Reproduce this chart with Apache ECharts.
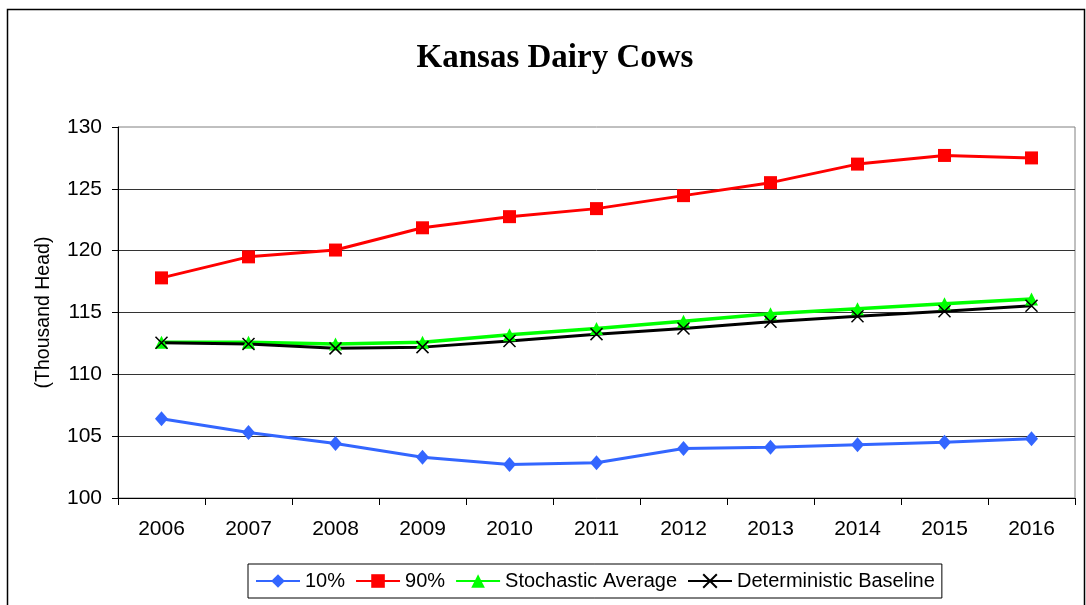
<!DOCTYPE html>
<html>
<head>
<meta charset="utf-8">
<script src="https://cdn.jsdelivr.net/npm/echarts@6/dist/echarts.min.js"></script>
<style>
html,body{margin:0;padding:0;background:#fff;}
#chart{width:1086px;height:605px;}
</style>
</head>
<body>
<div id="chart"></div>
<script>
const years = ['2006','2007','2008','2009','2010','2011','2012','2013','2014','2015','2016'];
const p10 = [106.4, 105.3, 104.4, 103.3, 102.7, 102.85, 104.0, 104.1, 104.3, 104.5, 104.8];
const p90 = [117.8, 119.5, 120.05, 121.85, 122.75, 123.4, 124.45, 125.5, 127.0, 127.7, 127.5];
const stochAvg = [112.6, 112.6, 112.45, 112.6, 113.2, 113.7, 114.3, 114.9, 115.3, 115.7, 116.1];
const detBase = [112.55, 112.45, 112.1, 112.2, 112.7, 113.25, 113.7, 114.25, 114.7, 115.1, 115.55];
const seriesNames = ['10%', '90%', 'Stochastic Average', 'Deterministic Baseline'];
const yTicks = {min: 100, max: 130, interval: 5};

const chart = echarts.init(document.getElementById('chart'), null, {renderer: 'canvas'});
const crossPath = 'path://M0,0L10,10M10,0L0,10';
const font = 'Liberation Sans, Arial, sans-serif';

chart.setOption({
  animation: false,
  backgroundColor: '#fff',
  graphic: [{
    type: 'rect', left: 5, top: 7, z: -1,
    shape: {width: 1077, height: 620},
    style: {fill: 'none', stroke: '#000', lineWidth: 1.5}
  }],
  title: {
    text: 'Kansas Dairy Cows',
    left: 550, textAlign: 'center', top: 37,
    textStyle: {fontFamily: 'Liberation Serif, Times New Roman, serif', fontWeight: 'bold', fontSize: 33, color: '#000'}
  },
  legend: {
    left: 248, top: 564,
    width: 720,
    padding: [7, 7, 7, 7],
    itemGap: 10,
    itemWidth: 44, itemHeight: 17,
    borderColor: '#000', borderWidth: 1,
    textStyle: {fontFamily: font, fontSize: 20, color: '#000'},
    data: seriesNames
  },
  grid: {
    left: 118, right: 11, top: 127, bottom: 107,
    show: true, borderColor: '#808080', borderWidth: 1,
    containLabel: false
  },
  xAxis: {
    type: 'category',
    data: years,
    boundaryGap: true,
    axisLine: {lineStyle: {color: '#000', width: 1}},
    axisTick: {show: true, length: 7, inside: false, lineStyle: {color: '#000'}},
    axisLabel: {fontFamily: font, fontSize: 21, color: '#000', margin: 21, interval: 0},
    splitLine: {show: false}
  },
  yAxis: {
    type: 'value',
    min: yTicks.min, max: yTicks.max, interval: yTicks.interval,
    name: '(Thousand Head)',
    nameLocation: 'middle',
    nameGap: 64,
    nameRotate: 90,
    nameTextStyle: {fontFamily: font, fontSize: 19.5, color: '#000'},
    axisLine: {show: true, lineStyle: {color: '#000', width: 1}},
    axisTick: {show: true, length: 6, lineStyle: {color: '#000'}},
    axisLabel: {fontFamily: font, fontSize: 21, color: '#000', margin: 16},
    splitLine: {show: true, showMaxLine: false, lineStyle: {color: '#333', width: 1}}
  },
  series: [
    {
      name: seriesNames[0], type: 'line', data: p10,
      symbol: 'diamond', symbolSize: [13, 15],
      lineStyle: {color: '#3366FF', width: 3},
      itemStyle: {color: '#3366FF'}
    },
    {
      name: seriesNames[1], type: 'line', data: p90,
      symbol: 'rect', symbolSize: 13,
      lineStyle: {color: '#FF0000', width: 3},
      itemStyle: {color: '#FF0000'}
    },
    {
      name: seriesNames[2], type: 'line', data: stochAvg,
      symbol: 'triangle', symbolSize: [13, 13],
      lineStyle: {color: '#00FF00', width: 3.5},
      itemStyle: {color: '#00FF00'}
    },
    {
      name: seriesNames[3], type: 'line', data: detBase,
      symbol: crossPath, symbolSize: 12,
      lineStyle: {color: '#000000', width: 3},
      itemStyle: {color: '#000000', borderColor: '#000000', borderWidth: 1.5}
    }
  ]
});
</script>
</body>
</html>
